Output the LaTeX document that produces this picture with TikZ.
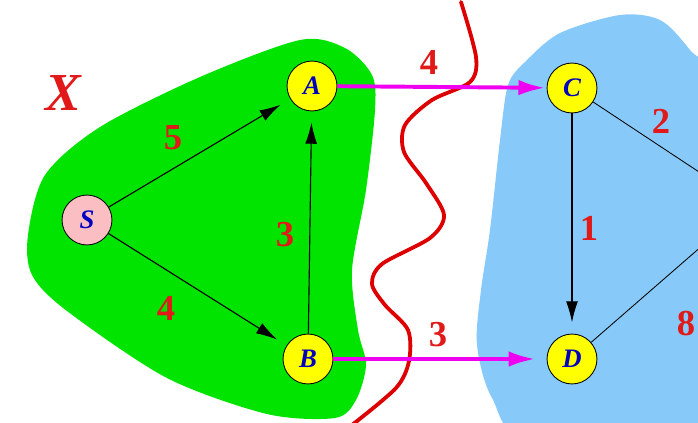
\documentclass[tikz,border=0pt]{standalone}
\usepackage{fontspec}
\setmainfont{Liberation Serif}
\usetikzlibrary{arrows.meta}

\definecolor{regiongreen}{RGB}{0,228,0}
\definecolor{regionblue}{RGB}{135,202,250}
\definecolor{cutred}{RGB}{222,0,0}
\definecolor{weightred}{RGB}{225,25,25}
\definecolor{vertexyellow}{RGB}{255,255,0}
\definecolor{sourcepink}{RGB}{250,190,195}
\definecolor{letterblue}{RGB}{0,0,190}
\definecolor{crossmagenta}{RGB}{240,0,240}

\tikzset{
	vertex/.style = {circle, draw, line width = 0.6pt, fill = vertexyellow,
		minimum size = 35.5pt, inner sep = 0pt, text = letterblue,
		font = \fontsize{19}{19}\selectfont\bfseries\itshape},
	weight/.style = {text = weightred, inner sep = 0pt,
		font = \fontsize{26}{26}\selectfont\bfseries},
	crossing/.style = {->, draw = crossmagenta, line width = 2.8pt,
		> = {Latex[length = 19pt, width = 11pt]}}
}

\begin{document}
\begin{tikzpicture}[x = 0.025cm, y = -0.025cm, > = {Latex[length = 15pt, width = 8.5pt]}]

	\useasboundingbox (0, 0) rectangle (698, 422);
	\clip (0, 0) rectangle (698, 422);

	\fill [regiongreen] plot [smooth cycle] coordinates {
		(28, 235) (45, 175) (100, 127) (200, 77) (300, 40) (345, 48) (372, 75)
		(375, 110) (366, 190) (352, 270) (358, 330) (366, 365) (356, 400)
		(335, 418) (267, 414) (167, 378) (67, 311) (32, 275)};

	\fill [regionblue] plot [smooth cycle] coordinates {
		(508, 85) (525, 62) (560, 33) (620, 15) (660, 20) (690, 50) (740, 120)
		(740, 450) (535, 445) (492, 398) (477, 345) (481, 290) (490, 230)
		(500, 140)};

	\draw [cutred, line width = 2.7pt, line cap = round] plot [smooth] coordinates {
		(461, 2) (476, 57) (470, 82) (432, 100) (405, 125) (404, 152) (426, 183)
		(444, 215) (430, 238) (382, 264) (372, 284) (385, 305) (408, 330)
		(409, 361) (396, 388) (352, 425)};

	\node [vertex, fill = sourcepink] (S) at (87, 220) {S};
	\node [vertex] (A) at (312, 86) {A};
	\node [vertex] (B) at (308, 359) {B};
	\node [vertex] (C) at (572, 88) {C};
	\node [vertex] (D) at (572, 359) {D};
	\coordinate (E) at (749, 205);

	\begin{scope}[->, line width = 0.8pt, shorten > = 8pt]
	
		\draw (S) -- (A);
		\draw (S) -- (B);
		\draw (B) -- (A);
		\draw (C) -- (D);
	
	\end{scope}

	\draw [line width = 0.6pt] (C) -- (E);
	\draw [line width = 0.6pt] (D) -- (E);

	\begin{scope}[crossing]
	
		\draw [shorten > = 1pt] (A) -- (C);
		\draw [shorten > = 8pt] (B) -- (D);
	
	\end{scope}

	\node [weight] (wSA) at (173, 138) {5};
	\node [weight] (wSB) at (166, 308) {4};
	\node [weight] (wBA) at (285, 235) {3};
	\node [weight] (wAC) at (429, 62) {4};
	\node [weight] (wBD) at (438, 335) {3};
	\node [weight] (wCD) at (589, 228) {1};
	\node [weight] (wCE) at (661, 121) {2};
	\node [weight] (wDE) at (686, 324) {8};

	\node [weight, font = \fontsize{38}{38}\selectfont\bfseries\itshape] (X) at (63, 93) {X};

\end{tikzpicture}
\end{document}
